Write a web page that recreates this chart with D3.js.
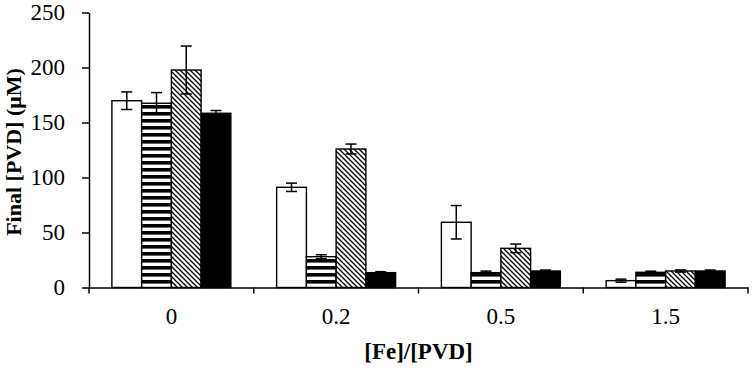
<!DOCTYPE html>
<html><head><meta charset="utf-8">
<script src="https://cdn.jsdelivr.net/npm/d3@7"></script>
<style>body{margin:0;background:#fff}svg{display:block}</style>
</head><body>
<svg id="c" width="753" height="369"></svg>
<script>
const categories = ["0", "0.2", "0.5", "1.5"];
const seriesNames = ["S1", "S2", "S3", "S4"];
const s1Values = [169.8, 91.1, 59.3, 6.2];
const s2Values = [167.5, 28, 13.5, 13.8];
const s3Values = [197.7, 125.9, 35.6, 15];
const s4Values = [158.4, 13.5, 15, 15];
const s1Err = [8, 3.8, 15.2, 1.4];
const s2Err = [9.7, 1.8, 1.4, 1];
const s3Err = [21.8, 4.5, 3.9, 1];
const s4Err = [2.5, 0.9, 0.9, 0.9];
const yTicks = [0, 50, 100, 150, 200, 250];

const values = [s1Values, s2Values, s3Values, s4Values];
const errs = [s1Err, s2Err, s3Err, s4Err];
const fills = ["#fff", "url(#hstripe)", "url(#diag)", "#000"];

const svg = d3.select("#c");
const L = 89, R = 748, T = 12.5, B = 287.5;
const FONT = "Liberation Serif, Times New Roman, serif";

const defs = svg.append("defs");
const hs = defs.append("pattern").attr("id", "hstripe").attr("patternUnits", "userSpaceOnUse")
  .attr("width", 8).attr("height", 7);
hs.append("rect").attr("width", 8).attr("height", 7).attr("fill", "#fff");
hs.append("rect").attr("y", 0).attr("width", 8).attr("height", 3.6).attr("fill", "#000");
const dg = defs.append("pattern").attr("id", "diag").attr("patternUnits", "userSpaceOnUse")
  .attr("width", 5).attr("height", 5);
dg.append("rect").attr("width", 5).attr("height", 5).attr("fill", "#fff");
dg.append("path").attr("d", "M-1,-1 L6,6 M-1,4 L1,6 M4,-1 L6,1").attr("stroke", "#000").attr("stroke-width", 1.3);

const x0 = d3.scaleBand().domain(categories).range([L, R]).paddingInner(0).paddingOuter(0);
const x1 = d3.scaleBand().domain(seriesNames).range([0, x0.bandwidth()]).paddingInner(0).paddingOuter(0.77);
const y = d3.scaleLinear().domain([0, 250]).range([B, T]);

const g = svg.append("g");
categories.forEach((c, ci) => {
  seriesNames.forEach((s, si) => {
    const v = values[si][ci];
    g.append("rect")
      .attr("x", x0(c) + x1(s))
      .attr("y", y(v))
      .attr("width", x1.bandwidth())
      .attr("height", B - y(v))
      .attr("fill", fills[si])
      .attr("stroke", "#000").attr("stroke-width", 1.4);
  });
});
categories.forEach((c, ci) => {
  seriesNames.forEach((s, si) => {
    const v = values[si][ci], e = errs[si][ci];
    const cx = x0(c) + x1(s) + x1.bandwidth() / 2;
    const eg = g.append("g").attr("stroke", "#000").attr("stroke-width", 1.5);
    eg.append("line").attr("x1", cx).attr("x2", cx).attr("y1", y(v + e)).attr("y2", y(v - e));
    eg.append("line").attr("x1", cx - 5.5).attr("x2", cx + 5.5).attr("y1", y(v + e)).attr("y2", y(v + e));
    eg.append("line").attr("x1", cx - 5.5).attr("x2", cx + 5.5).attr("y1", y(v - e)).attr("y2", y(v - e));
  });
});

const ya = svg.append("g").attr("transform", `translate(${L},0)`)
  .call(d3.axisLeft(y).tickValues(yTicks).tickSize(7).tickPadding(17).tickSizeOuter(0));
ya.select(".domain").attr("stroke", "#000").attr("stroke-width", 1.5);
ya.selectAll(".tick line").attr("stroke", "#000").attr("stroke-width", 1.5);
ya.selectAll("text").attr("font-family", FONT).attr("font-size", 23).attr("fill", "#000");

const xa = svg.append("g").attr("transform", `translate(0,${B})`)
  .call(d3.axisBottom(x0).tickSize(0).tickPadding(20).tickSizeOuter(0));
xa.select(".domain").attr("stroke", "#000").attr("stroke-width", 1.5);
xa.selectAll(".tick line").remove();
xa.selectAll("text").attr("font-family", FONT).attr("font-size", 23).attr("fill", "#000");
const bounds = categories.map(c => x0(c)).concat([R]);
xa.selectAll(".btick").data(bounds).enter().append("line")
  .attr("x1", d => d).attr("x2", d => d).attr("y1", 0).attr("y2", 6)
  .attr("stroke", "#000").attr("stroke-width", 1.5);

svg.append("text").attr("x", (L + R) / 2).attr("y", 359).attr("text-anchor", "middle")
  .attr("font-family", FONT).attr("font-weight", "bold").attr("font-size", 23).text("[Fe]/[PVD]");
svg.append("text").attr("transform", `translate(21,${(T + B) / 2 + 2}) rotate(-90)`).attr("text-anchor", "middle")
  .attr("font-family", FONT).attr("font-weight", "bold").attr("font-size", 22).text("Final [PVD] (μM)");
</script>
</body></html>
